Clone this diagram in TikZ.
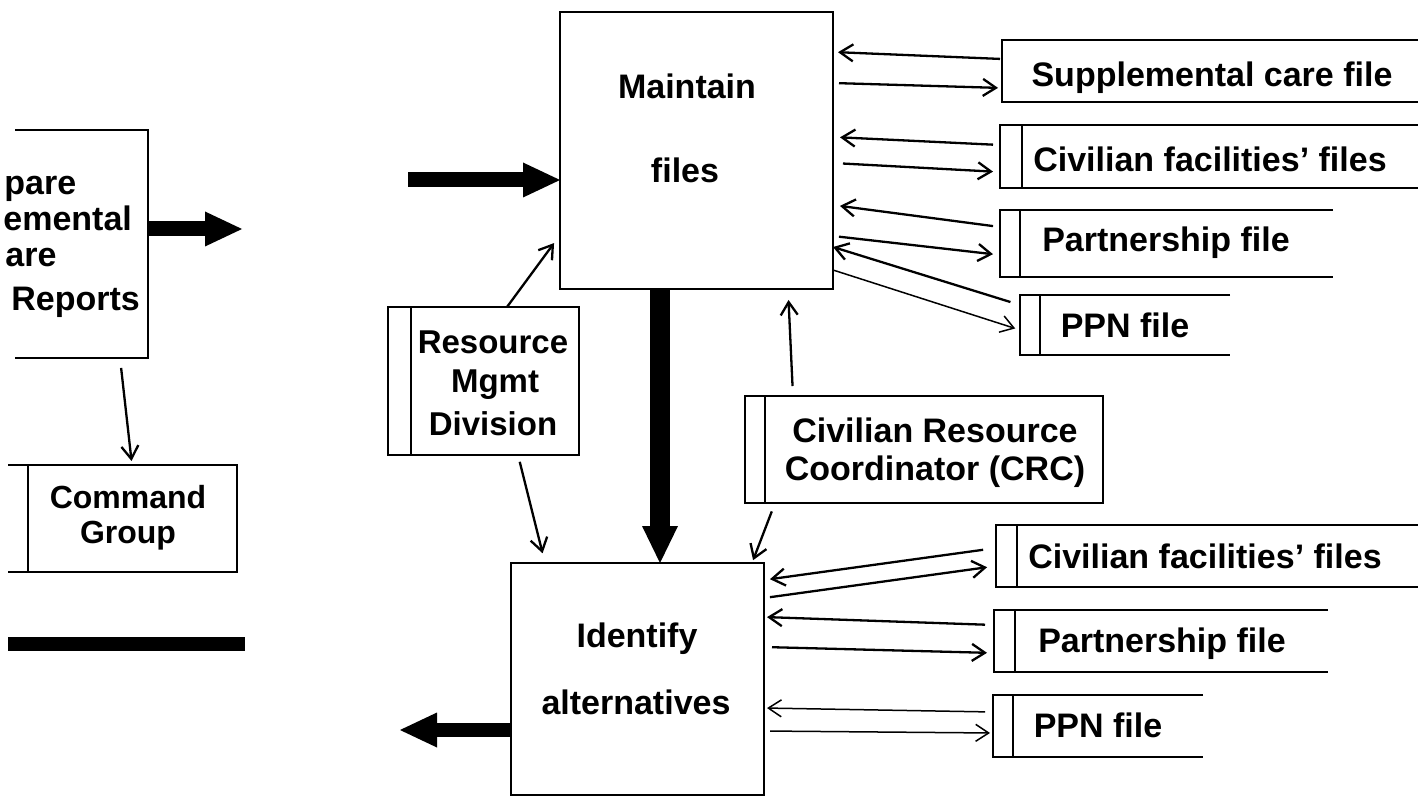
\documentclass[tikz,border=0pt]{standalone}
\usepackage{fontspec}
\setmainfont{Liberation Sans}
\usetikzlibrary{arrows.meta,fit}
\newcommand\dgfont[1]{\fontsize{#1pt}{#1pt}\selectfont\bfseries}
\tikzset{
  outline/.style={line width=1pt},
  area/.style={inner sep=0pt, outer sep=0pt},
  procbox/.style={area, draw, outline},
  lbl/.style={anchor=base, inner sep=0pt, font={\dgfont{17}}},
  flow/.style={line width=1.15pt, -{Straight Barb[length=6.5pt,width=8.5pt]}},
  thinflow/.style={flow, line width=0.75pt},
  bigflow/.style={line width=7.5pt, -{Triangle[length=18.5pt,width=17.5pt,line width=0pt]}},
}
\begin{document}
\begin{tikzpicture}[x=0.5pt,y=-0.5pt]
\useasboundingbox (0,0) rectangle (1418,802);

% ---------- left column: report process, command group, outgoing bar
\node[area, fit={(-80,130) (148,358)}] (prep) {};
\draw[outline] (15,130) -- (prep.north east) -- (prep.south east) -- (15,358);
\node[lbl, anchor=base west] (prepA) at (4,195) {pare};
\node[lbl, anchor=base west] (prepB) at (3,231) {emental};
\node[lbl, anchor=base west] (prepC) at (5,266) {are};
\node[lbl, anchor=base west] (prepD) at (11,310) {Reports};
\coordinate (prepout) at (242,229);
\draw[bigflow] (prep.east |- 0,229) -- (prepout);

\node[area, fit={(8,465) (237,572)}] (cmd) {};
\draw[outline] (cmd.north west) -- (cmd.north east) -- (cmd.south east) -- (cmd.south west);
\draw[outline] ([xshift=10pt]cmd.north west) -- ([xshift=10pt]cmd.south west);
\node[lbl, font={\dgfont{16}}] (cmdA) at (128,508) {Command};
\node[lbl, font={\dgfont{16}}] (cmdB) at (128,543) {Group};
\draw[flow, shorten <=5pt, shorten >=2pt] (prep.south -| 120,0) -- (cmd.north -| 132,0);

\coordinate (barA) at (8,644);
\coordinate (barB) at (245,644);
\draw[line width=7pt] (barA) -- (barB);

% ---------- processes
\node[procbox, fit={(560,12) (833,289)}] (maint) {};
\node[lbl] (maintA) at (687,99) {Maintain};
\node[lbl] (maintB) at (685,183) {files};

\node[procbox, fit={(511,563) (764,795)}] (ident) {};
\node[lbl] (identA) at (637,647) {Identify};
\node[lbl] (identB) at (636,714) {alternatives};

\coordinate (mainin) at (408,180);
\draw[bigflow] (mainin) -- (maint.west |- 0,180);
\draw[line width=10pt, -{Triangle[length=18.5pt,width=18pt,line width=0pt]}]
  (maint.south -| 660,0) -- (ident.north -| 660,0);
\coordinate (identout) at (400,730);
\draw[bigflow, line width=7pt] (ident.west |- 0,730) -- (identout);

% ---------- external entities
\node[procbox, fit={(388,307) (579,455)}] (res) {};
\draw[outline] ([xshift=11.5pt]res.north west) -- ([xshift=11.5pt]res.south west);
\node[lbl, font={\dgfont{16.5}}] (resA) at (493,353) {Resource};
\node[lbl, font={\dgfont{16.5}}] (resB) at (495,392) {Mgmt};
\node[lbl, font={\dgfont{16.5}}] (resC) at (493,435) {Division};

\node[procbox, fit={(745,396) (1103,503)}] (crc) {};
\draw[outline] ([xshift=10pt]crc.north west) -- ([xshift=10pt]crc.south west);
\node[lbl] (crcA) at (935,442) {Civilian Resource};
\node[lbl] (crcB) at (935,480) {Coordinator (CRC)};

\draw[flow, shorten >=5pt] (res.north -| 507,0) -- (maint.west |- 0,235);
\draw[flow, shorten <=3.5pt, shorten >=5pt] (res.south -| 518,0) -- (ident.north -| 545,0);
\draw[flow, shorten <=5pt, shorten >=5.5pt] (crc.north -| 793,0) -- (maint.south -| 788,0);
\draw[flow, shorten <=4.5pt, shorten >=1.5pt] (crc.south -| 775,0) -- (ident.north -| 752,0);

% ---------- data stores used by "Maintain files"
\node[area, fit={(1002,40) (1418,102)}] (supp) {};
\draw[outline] (supp.north east) -- (supp.north west) -- (supp.south west) -- (supp.south east);
\node[lbl] (suppT) at (1212,87) {Supplemental care file};

\node[area, fit={(1000,125) (1418,188)}] (civA) {};
\draw[outline] (civA.north east) -- (civA.north west) -- (civA.south west) -- (civA.south east);
\draw[outline] ([xshift=11pt]civA.north west) -- ([xshift=11pt]civA.south west);
\node[lbl] (civAT) at (1210,172) {Civilian facilities' files};

\node[area, fit={(1000,210) (1333,277)}] (partA) {};
\draw[outline] (partA.north east) -- (partA.north west) -- (partA.south west) -- (partA.south east);
\draw[outline] ([xshift=10pt]partA.north west) -- ([xshift=10pt]partA.south west);
\node[lbl] (partAT) at (1166,252) {Partnership file};

\node[area, fit={(1020,295) (1230,355)}] (ppnA) {};
\draw[outline] (ppnA.north east) -- (ppnA.north west) -- (ppnA.south west) -- (ppnA.south east);
\draw[outline] ([xshift=10pt]ppnA.north west) -- ([xshift=10pt]ppnA.south west);
\node[lbl] (ppnAT) at (1125,337) {PPN file};

\draw[flow, shorten <=1pt, shorten >=2.5pt] (supp.west |- 0,59) -- (maint.east |- 0,52);
\draw[flow, shorten <=3pt, shorten >=2pt] (maint.east |- 0,83) -- (supp.west |- 0,88);
\draw[flow, shorten <=3.5pt, shorten >=3.5pt] (civA.west |- 0,145) -- (maint.east |- 0,137);
\draw[flow, shorten <=5pt, shorten >=3.5pt] (maint.east |- 0,163) -- (civA.west |- 0,172);
\draw[flow, shorten <=3.5pt, shorten >=3.5pt] (partA.west |- 0,227) -- (maint.east |- 0,205);
\draw[flow, shorten <=3pt, shorten >=3.5pt] (maint.east |- 0,236) -- (partA.west |- 0,255);
\draw[flow, shorten <=5pt] (ppnA.west |- 0,305) -- (maint.east |- 0,247);
\draw[thinflow, shorten >=2.5pt] (maint.east |- 0,270) -- (ppnA.west |- 0,330);

% ---------- data stores used by "Identify alternatives"
\node[area, fit={(996,525) (1418,587)}] (civB) {};
\draw[outline] (civB.north east) -- (civB.north west) -- (civB.south west) -- (civB.south east);
\draw[outline] ([xshift=10.5pt]civB.north west) -- ([xshift=10.5pt]civB.south west);
\node[lbl] (civBT) at (1205,568) {Civilian facilities' files};

\node[area, fit={(994,610) (1328,672)}] (partB) {};
\draw[outline] (partB.north east) -- (partB.north west) -- (partB.south west) -- (partB.south east);
\draw[outline] ([xshift=10.5pt]partB.north west) -- ([xshift=10.5pt]partB.south west);
\node[lbl] (partBT) at (1162,652) {Partnership file};

\node[area, fit={(993,695) (1203,757)}] (ppnB) {};
\draw[outline] (ppnB.north east) -- (ppnB.north west) -- (ppnB.south west) -- (ppnB.south east);
\draw[outline] ([xshift=10pt]ppnB.north west) -- ([xshift=10pt]ppnB.south west);
\node[lbl] (ppnBT) at (1098,737) {PPN file};

\draw[flow, shorten <=6.5pt, shorten >=3pt] (civB.west |- 0,548) -- (ident.east |- 0,580);
\draw[flow, shorten <=3pt, shorten >=4.5pt] (ident.east |- 0,598) -- (civB.west |- 0,566);
\draw[flow, shorten <=4.5pt, shorten >=1.5pt] (partB.west |- 0,625) -- (ident.east |- 0,617);
\draw[flow, shorten <=4pt, shorten >=3.5pt] (ident.east |- 0,647) -- (partB.west |- 0,653);
\draw[thinflow, shorten <=4pt, shorten >=1.5pt] (ppnB.west |- 0,712) -- (ident.east |- 0,708);
\draw[thinflow, shorten <=3pt, shorten >=1.5pt] (ident.east |- 0,731) -- (ppnB.west |- 0,733);
\end{tikzpicture}
\end{document}
